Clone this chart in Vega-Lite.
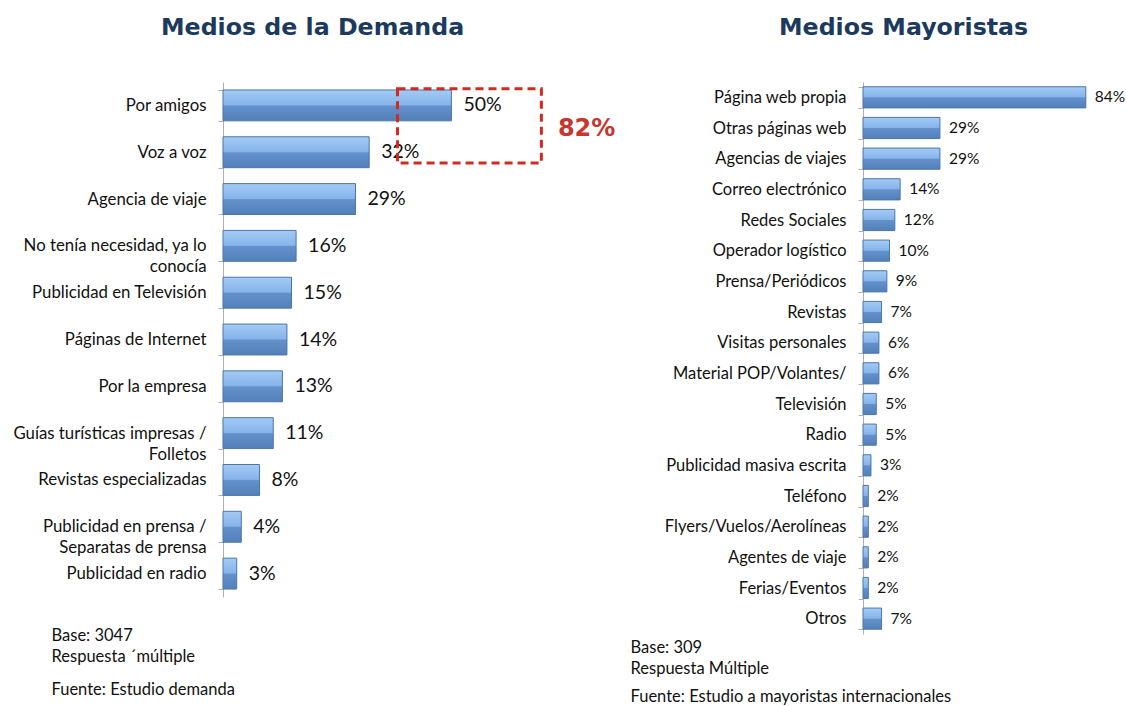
{
  "$schema": "https://vega.github.io/schema/vega-lite/v6.json",
  "background": "white",
  "padding": {"left": 12, "top": 16, "right": 0, "bottom": 0},
  "spacing": 14,
  "config": {"font": "Lato", "view": {"stroke": null}},
  "datasets": {
    "demanda": [
      {"medio": "Por amigos", "pct": 0.50},
      {"medio": "Voz a voz", "pct": 0.32},
      {"medio": "Agencia de viaje", "pct": 0.29},
      {"medio": "No tenía necesidad, ya lo conocía", "pct": 0.16},
      {"medio": "Publicidad en Televisión", "pct": 0.15},
      {"medio": "Páginas de Internet", "pct": 0.14},
      {"medio": "Por la empresa", "pct": 0.13},
      {"medio": "Guías turísticas impresas / Folletos", "pct": 0.11},
      {"medio": "Revistas especializadas", "pct": 0.08},
      {"medio": "Publicidad en prensa / Separatas de prensa", "pct": 0.04},
      {"medio": "Publicidad en radio", "pct": 0.03}
    ],
    "mayoristas": [
      {"medio": "Página web propia", "pct": 0.84},
      {"medio": "Otras páginas web", "pct": 0.29},
      {"medio": "Agencias de viajes", "pct": 0.29},
      {"medio": "Correo electrónico", "pct": 0.14},
      {"medio": "Redes Sociales", "pct": 0.12},
      {"medio": "Operador logístico", "pct": 0.10},
      {"medio": "Prensa/Periódicos", "pct": 0.09},
      {"medio": "Revistas", "pct": 0.07},
      {"medio": "Visitas personales", "pct": 0.06},
      {"medio": "Material POP/Volantes/", "pct": 0.06},
      {"medio": "Televisión", "pct": 0.05},
      {"medio": "Radio", "pct": 0.05},
      {"medio": "Publicidad masiva escrita", "pct": 0.03},
      {"medio": "Teléfono", "pct": 0.02},
      {"medio": "Flyers/Vuelos/Aerolíneas", "pct": 0.02},
      {"medio": "Agentes de viaje", "pct": 0.02},
      {"medio": "Ferias/Eventos", "pct": 0.02},
      {"medio": "Otros", "pct": 0.07}
    ],
    "caja": [
      {"desde": "Por amigos", "hasta": "Voz a voz", "x1": 0.382, "x2": 0.697}
    ],
    "total": [
      {"medio": "Por amigos", "x": 0.796, "texto": "82%"}
    ]
  },
  "hconcat": [
    {
      "width": 370,
      "height": 515,
      "title": {
        "text": "Medios de la Demanda",
        "font": "DejaVu Sans",
        "fontSize": 23.7,
        "fontWeight": "bold",
        "color": "#1c3a5e",
        "anchor": "start",
        "frame": "group",
        "dx": -62,
        "offset": 34
      },
      "layer": [
        {
          "data": {"name": "demanda"},
          "mark": {
            "type": "bar",
            "stroke": "#4a76a8",
            "strokeWidth": 1,
            "color": {
              "gradient": "linear", "x1": 0, "y1": 0, "x2": 0, "y2": 1,
              "stops": [
                {"offset": 0, "color": "#a3cbf5"},
                {"offset": 0.48, "color": "#86b4ea"},
                {"offset": 0.52, "color": "#6391cb"},
                {"offset": 1, "color": "#5480b9"}
              ]
            }
          },
          "encoding": {
            "y": {
              "field": "medio", "type": "nominal", "sort": null,
              "scale": {
                "domain": ["Por amigos", "Voz a voz", "Agencia de viaje", "No tenía necesidad, ya lo conocía", "Publicidad en Televisión", "Páginas de Internet", "Por la empresa", "Guías turísticas impresas / Folletos", "Revistas especializadas", "Publicidad en prensa / Separatas de prensa", "Publicidad en radio"],
                "paddingInner": 0.34, "paddingOuter": 0.17
              },
              "axis": {
                "title": null,
                "domainColor": "#b0b0b0",
                "tickColor": "#b0b0b0",
                "tickSize": 5,
                "tickBand": "extent",
                "labelPadding": 12,
                "labelFontSize": 16.8,
                "labelColor": "#111111",
                "labelLineHeight": 21,
                "labelLimit": 300,
                "labelExpr": "datum.value == 'No tenía necesidad, ya lo conocía' ? ['No tenía necesidad, ya lo', 'conocía'] : datum.value == 'Guías turísticas impresas / Folletos' ? ['Guías turísticas impresas /', 'Folletos'] : datum.value == 'Publicidad en prensa / Separatas de prensa' ? ['Publicidad en prensa /', 'Separatas de prensa'] : datum.value"
              }
            },
            "x": {
              "field": "pct", "type": "quantitative",
              "scale": {"domain": [0, 0.81], "nice": false},
              "axis": {
                "domain": false, "ticks": false, "grid": false,
                "values": [0],
                "labelExpr": "'Fuente: Estudio demanda'",
                "labelAlign": "left",
                "labelBaseline": "top",
                "labelOffset": -172,
                "labelPadding": 84,
                "labelFontSize": 16.5,
                "labelColor": "#111111",
                "labelFlush": false,
                "labelOverlap": false,
                "labelBound": false,
                "labelLimit": 400,
                "title": ["Base: 3047", "Respuesta ´múltiple"],
                "titleFontSize": 16.5,
                "titleFontWeight": "normal",
                "titleColor": "#111111",
                "titleAlign": "left",
                "titleBaseline": "top",
                "titleLineHeight": 21,
                "titleX": -172,
                "titleY": 30
              }
            }
          }
        },
        {
          "data": {"name": "demanda"},
          "mark": {"type": "text", "align": "left", "baseline": "middle", "dx": 12, "fontSize": 19.5, "color": "#111111"},
          "encoding": {
            "y": {"field": "medio", "type": "nominal", "sort": null},
            "x": {"field": "pct", "type": "quantitative"},
            "text": {"field": "pct", "type": "quantitative", "format": ".0%"}
          }
        },
        {
          "data": {"name": "caja"},
          "mark": {"type": "rect", "fillOpacity": 0, "stroke": "#d42a1e", "strokeWidth": 3, "strokeDash": [8, 5]},
          "encoding": {
            "y": {"field": "desde", "type": "nominal", "bandPosition": -0.04},
            "y2": {"field": "hasta", "bandPosition": 0.85},
            "x": {"field": "x1", "type": "quantitative"},
            "x2": {"field": "x2"}
          }
        },
        {
          "data": {"name": "total"},
          "mark": {"type": "text", "align": "center", "baseline": "middle", "fontSize": 24, "fontWeight": "bold", "color": "#c8372f", "font": "DejaVu Sans"},
          "encoding": {
            "y": {"field": "medio", "type": "nominal", "bandPosition": 1.25},
            "x": {"field": "x", "type": "quantitative"},
            "text": {"field": "texto"}
          }
        }
      ]
    },
    {
      "width": 252,
      "height": 552,
      "title": {
        "text": "Medios Mayoristas",
        "font": "DejaVu Sans",
        "fontSize": 23.7,
        "fontWeight": "bold",
        "color": "#1c3a5e",
        "anchor": "start",
        "frame": "group",
        "dx": -84,
        "offset": 34
      },
      "layer": [
        {
          "data": {"name": "mayoristas"},
          "mark": {
            "type": "bar",
            "stroke": "#4a76a8",
            "strokeWidth": 1,
            "color": {
              "gradient": "linear", "x1": 0, "y1": 0, "x2": 0, "y2": 1,
              "stops": [
                {"offset": 0, "color": "#a3cbf5"},
                {"offset": 0.48, "color": "#86b4ea"},
                {"offset": 0.52, "color": "#6391cb"},
                {"offset": 1, "color": "#5480b9"}
              ]
            }
          },
          "encoding": {
            "y": {
              "field": "medio", "type": "nominal", "sort": null,
              "scale": {"paddingInner": 0.31, "paddingOuter": 0.155},
              "axis": {
                "title": null,
                "domainColor": "#b0b0b0",
                "tickColor": "#b0b0b0",
                "tickSize": 5,
                "tickBand": "extent",
                "labelPadding": 12,
                "labelFontSize": 16.5,
                "labelColor": "#111111",
                "labelLimit": 300
              }
            },
            "x": {
              "field": "pct", "type": "quantitative",
              "scale": {"domain": [0, 0.95], "nice": false},
              "axis": {
                "domain": false, "ticks": false, "grid": false,
                "values": [0],
                "labelExpr": "'Fuente: Estudio a mayoristas internacionales'",
                "labelAlign": "left",
                "labelBaseline": "top",
                "labelOffset": -233,
                "labelPadding": 54,
                "labelFontSize": 16.5,
                "labelColor": "#111111",
                "labelFlush": false,
                "labelOverlap": false,
                "labelBound": false,
                "labelLimit": 400,
                "title": ["Base: 309", "Respuesta Múltiple"],
                "titleFontSize": 16.5,
                "titleFontWeight": "normal",
                "titleColor": "#111111",
                "titleAlign": "left",
                "titleBaseline": "top",
                "titleLineHeight": 21,
                "titleX": -233,
                "titleY": 5
              }
            }
          }
        },
        {
          "data": {"name": "mayoristas"},
          "mark": {"type": "text", "align": "left", "baseline": "middle", "dx": 9, "fontSize": 15.5, "color": "#111111"},
          "encoding": {
            "y": {"field": "medio", "type": "nominal", "sort": null},
            "x": {"field": "pct", "type": "quantitative"},
            "text": {"field": "pct", "type": "quantitative", "format": ".0%"}
          }
        }
      ]
    }
  ]
}
